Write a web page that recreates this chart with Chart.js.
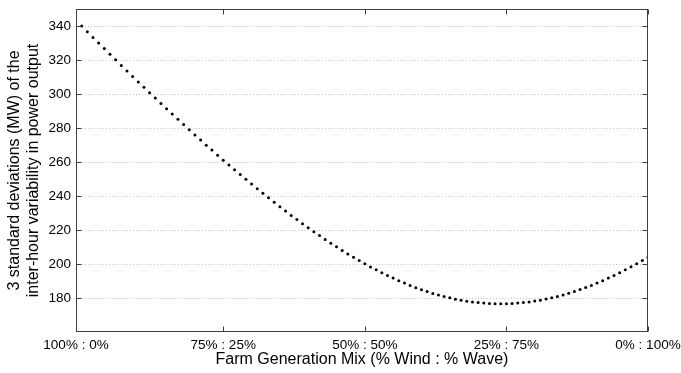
<!DOCTYPE html>
<html><head><meta charset="utf-8">
<script src="https://cdn.jsdelivr.net/npm/chart.js@4.4.0/dist/chart.umd.min.js"></script>
<style>html,body{margin:0;padding:0;background:#fff;}#wrap{width:681px;height:373px;}</style>
</head><body><div id="wrap"><canvas id="c" width="681" height="373"></canvas></div>
<script>
const waveSharePct = [0,1,2,3,4,5,6,7,8,9,10,11,12,13,14,15,16,17,18,19,20,21,22,23,24,25,26,27,28,29,30,31,32,33,34,35,36,37,38,39,40,41,42,43,44,45,46,47,48,49,50,51,52,53,54,55,56,57,58,59,60,61,62,63,64,65,66,67,68,69,70,71,72,73,74,75,76,77,78,79,80,81,82,83,84,85,86,87,88,89,90,91,92,93,94,95,96,97,98,99,100];
const variabilityMW = [340.0,336.6,333.3,330.0,326.7,323.4,320.1,316.8,313.6,310.3,307.1,303.9,300.7,297.6,294.4,291.3,288.2,285.1,282.0,278.9,275.9,272.9,269.9,267.0,264.0,261.1,258.2,255.4,252.6,249.8,247.0,244.3,241.6,238.9,236.3,233.7,231.2,228.6,226.2,223.7,221.3,219.0,216.7,214.4,212.2,210.1,208.0,205.9,204.0,202.0,200.1,198.3,196.6,194.9,193.2,191.7,190.2,188.8,187.4,186.1,184.9,183.8,182.7,181.8,180.9,180.1,179.3,178.7,178.1,177.7,177.3,177.0,176.8,176.6,176.6,176.6,176.8,177.0,177.3,177.7,178.2,178.7,179.4,180.1,180.9,181.8,182.8,183.8,185.0,186.2,187.4,188.8,190.2,191.7,193.3,194.9,196.6,198.4,200.2,202.1,204.0];
const xTickValues = [-1,25,50,75,100];
const xTickLabels = ['100% : 0%','75% : 25%','50% : 50%','25% : 75%','0% : 100%'];
const yTickValues = [180,200,220,240,260,280,300,320,340];
const xTitle = 'Farm Generation Mix (% Wind : % Wave)';
const yTitle = ['3 standard deviations (MW) of the','inter-hour variability in power output'];

const FONT = '"Liberation Sans", Arial, Helvetica, sans-serif';

const frame = {
  id:'frame',
  afterDraw(chart){
    const ctx = chart.ctx;
    const {left,right,top,bottom} = chart.chartArea;
    const L = Math.round(left)+0.5, R = Math.round(right)-0.5, T = Math.round(top)+0.5, B = Math.round(bottom)-0.5;
    ctx.save();
    ctx.strokeStyle = '#404040';
    ctx.lineWidth = 1;
    ctx.strokeRect(L, T, R-L, B-T);
    const len = 5;
    ctx.beginPath();
    chart.scales.x.ticks.forEach(t=>{
      const px = Math.round(chart.scales.x.getPixelForValue(t.value))+0.5;
      ctx.moveTo(px,B); ctx.lineTo(px,B-len);
      ctx.moveTo(px,T); ctx.lineTo(px,T+len);
    });
    chart.scales.y.ticks.forEach(t=>{
      const py = Math.round(chart.scales.y.getPixelForValue(t.value))+0.5;
      ctx.moveTo(L,py); ctx.lineTo(L+len,py);
      ctx.moveTo(R,py); ctx.lineTo(R-len,py);
    });
    ctx.stroke();
    ctx.restore();
  }
};

new Chart(document.getElementById('c'), {
  type:'scatter',
  data:{datasets:[{
    data: waveSharePct.map((x,i)=>({x:x, y:variabilityMW[i]})),
    showLine:false,
    pointRadius:1.5,
    pointBorderWidth:0,
    pointBackgroundColor:'#000',
    pointBorderColor:'#000'
  }]},
  options:{
    responsive:false,
    animation:false,
    layout:{padding:{top:9,right:33,left:0,bottom:0}},
    plugins:{legend:{display:false},tooltip:{enabled:false}},
    scales:{
      x:{
        type:'linear', min:-1, max:100,
        afterBuildTicks:s=>{s.ticks = xTickValues.map(v=>({value:v}));},
        afterFit:s=>{s.height = 41; s.paddingLeft = 0; s.paddingRight = 0;},
        ticks:{autoSkip:false, maxRotation:0, padding:5, color:'#000',
          font:{family:FONT,size:13.5},
          callback:(v,i)=>xTickLabels[i]},
        grid:{display:false, drawTicks:false},
        border:{display:false},
        title:{display:true, text:xTitle, color:'#000', font:{family:FONT,size:16}, padding:{top:0,bottom:4}}
      },
      y:{
        min:160, max:350,
        afterBuildTicks:s=>{s.ticks = yTickValues.map(v=>({value:v}));},
        afterFit:s=>{s.width = 76; s.paddingTop = 0; s.paddingBottom = 0;},
        ticks:{padding:5, color:'#000', font:{family:FONT,size:13.5}},
        grid:{color:'#c4c4c4', lineWidth:1, drawTicks:false},
        border:{display:false, dash:[1,2]},
        title:{display:true, text:yTitle, color:'#000', font:{family:FONT,size:16, lineHeight:1.2}, padding:{top:5,bottom:0}}
      }
    }
  },
  plugins:[frame]
});
</script></body></html>
